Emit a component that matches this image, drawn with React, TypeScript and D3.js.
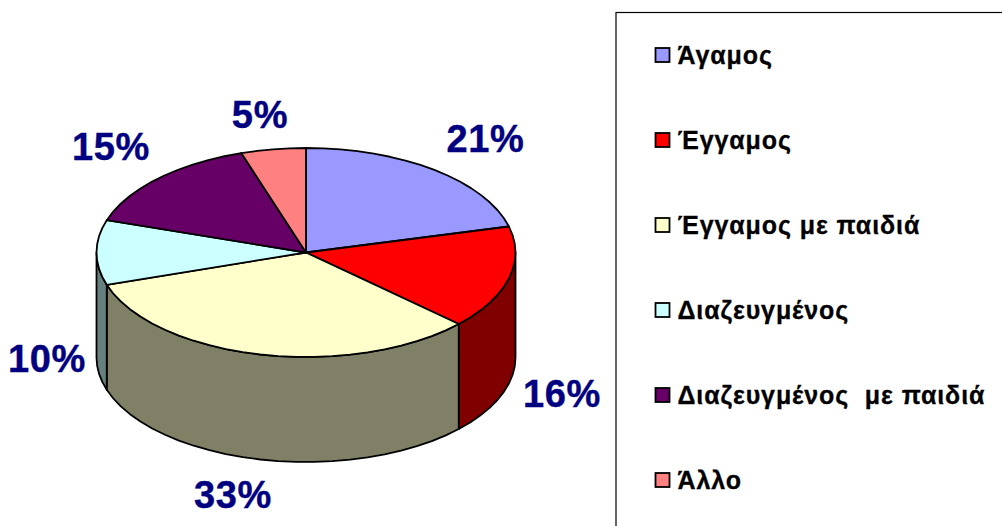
import React from "react";
import * as d3 from "d3";

const categories = ["Άγαμος", "Έγγαμος", "Έγγαμος με παιδιά", "Διαζευγμένος", "Διαζευγμένος  με παιδιά", "Άλλο"];
const values = [21, 16, 33, 10, 15, 5];
const topColors = ["#9999ff", "#ff0000", "#ffffcc", "#ccffff", "#660066", "#ff8080"];
const wallColors = ["#4d4d80", "#800000", "#808066", "#668080", "#330033", "#804040"];
const labelPos: [number, number][] = [[485.5, 152], [562, 407], [233, 508], [47, 372], [111, 160], [260, 128]];
const legendY = [56, 141, 226, 311, 396, 481];

const FONT = "'Liberation Sans', Arial, sans-serif";
const cx = 306, cy = 252.5, rx = 209.5, ry = 104.5, depth = 105;

const sx = d3.scaleLinear().domain([-1, 1]).range([cx - rx, cx + rx]);
const sy = d3.scaleLinear().domain([-1, 1]).range([cy - ry, cy + ry]);
const px = (a: number) => sx(Math.sin(a));
const py = (a: number) => sy(-Math.cos(a));

function arcPts(a: number, b: number, dy = 0) {
  const n = Math.max(2, Math.ceil((Math.abs(b - a) / (Math.PI * 2)) * 72));
  return d3.range(n + 1).map((i) => {
    const t = a + ((b - a) * i) / n;
    return [px(t), py(t) + dy] as [number, number];
  });
}

const pieGen = d3.pie<number>().sort(null).startAngle(0).endAngle(Math.PI * 2);
const arcs = pieGen(values);
const line = d3.line();

export default function App() {
  const H = Math.PI / 2;
  const walls = arcs
    .map((d, i) => {
      const a = Math.max(d.startAngle, H);
      const b = Math.min(d.endAngle, 3 * H);
      if (b <= a) return null;
      const pts = [...arcPts(a, b), ...arcPts(b, a, depth)];
      return <path key={i} d={line(pts)! + "Z"} fill={wallColors[i]} stroke="#000" strokeWidth={1.8} strokeLinejoin="round" />;
    });
  return (
    <svg width={1002} height={526} style={{ position: "absolute", left: 0, top: 0, background: "#fff" }} fontFamily={FONT}>
      <rect x={616} y={12.5} width={500} height={600} fill="#fff" stroke="#000" strokeWidth={1.2} />
      {walls}
      {arcs.map((d, i) => {
        const pts = [[sx(0), sy(0)] as [number, number], ...arcPts(d.startAngle, d.endAngle)];
        return <path key={i} d={line(pts)! + "Z"} fill={topColors[i]} stroke="#000" strokeWidth={1.8} strokeLinejoin="round" />;
      })}
      {arcs.map((d, i) => (
        <text key={i} x={labelPos[i][0]} y={labelPos[i][1]} textAnchor="middle" fontSize={38} fontWeight={700} letterSpacing={0.7} fill="#000080" stroke="#000080" strokeWidth={0.4}>
          {values[i]}%
        </text>
      ))}
      {categories.map((c, i) => (
        <g key={i}>
          <rect x={655.5} y={legendY[i] - 8} width={14} height={14} fill={topColors[i]} stroke="#000" strokeWidth={1.8} />
          <text x={677.5} y={legendY[i] + 8} fontSize={25} fontWeight={700} letterSpacing={0.9} fill="#000" stroke="#000" strokeWidth={0.3} style={{ whiteSpace: "pre" }} xmlSpace="preserve">
            {c}
          </text>
        </g>
      ))}
    </svg>
  );
}
